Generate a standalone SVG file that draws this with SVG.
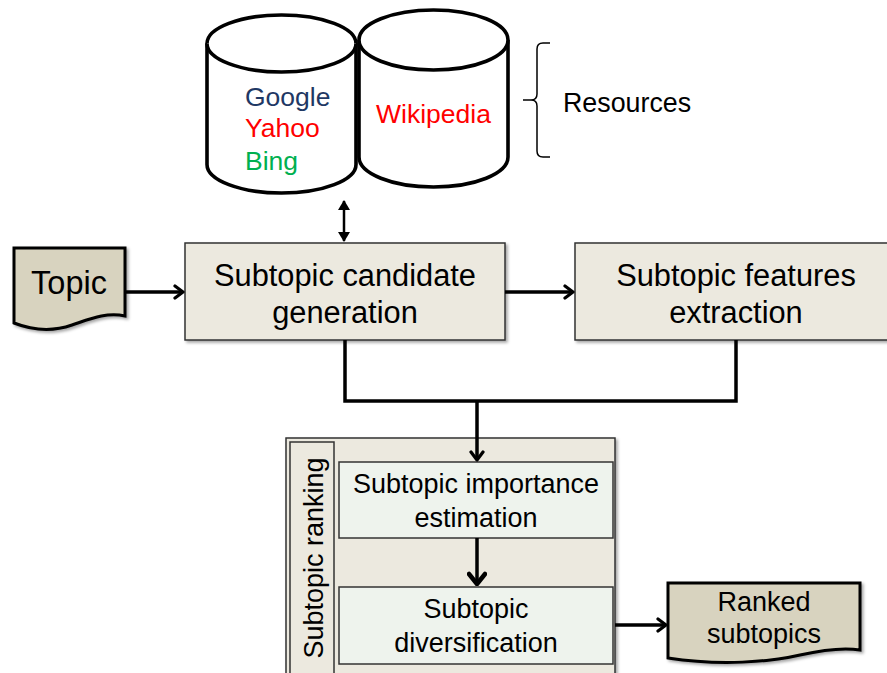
<svg xmlns="http://www.w3.org/2000/svg" width="887" height="673" viewBox="0 0 887 673">
  <defs>
    <filter id="sh" x="-10%" y="-10%" width="130%" height="130%">
      <feDropShadow dx="2" dy="2" stdDeviation="1.5" flood-color="#000" flood-opacity="0.35"/>
    </filter>
    <marker id="chev" viewBox="-11 -8 13 16" refX="0" refY="0" markerWidth="13" markerHeight="16" markerUnits="userSpaceOnUse" orient="auto">
      <path d="M-8,-6 L0,0 L-8,6" fill="none" stroke="#000" stroke-width="3.2" stroke-linecap="round" stroke-linejoin="round"/>
    </marker>
    <marker id="chevBig" viewBox="-13 -10 15 20" refX="0" refY="0" markerWidth="15" markerHeight="20" markerUnits="userSpaceOnUse" orient="auto">
      <path d="M-10,-8 L0,0 L-10,8" fill="none" stroke="#000" stroke-width="4.5" stroke-linecap="round" stroke-linejoin="round"/>
    </marker>
    <marker id="tri" viewBox="0 0 10 12" refX="9" refY="6" markerWidth="10" markerHeight="12" markerUnits="userSpaceOnUse" orient="auto-start-reverse">
      <path d="M0,0 L10,6 L0,12 Z" fill="#000"/>
    </marker>
  </defs>
  <style>
    text { font-family: "Liberation Sans", Arial, sans-serif; fill: #000; }
    .box { fill: #ece9df; stroke: #333; stroke-width: 1.5; }
    .inner { fill: #eef3ed; stroke: #333; stroke-width: 1.5; }
    .doc { fill: #d8d3bf; stroke: #000; stroke-width: 3; }
    .cyl { fill: #fff; stroke: #000; stroke-width: 3.6; }
    .conn { fill: none; stroke: #000; stroke-width: 3.5; }
    .big { font-size: 30.8px; }
    .mid { font-size: 27px; }
  </style>

  <rect width="887" height="673" fill="#fff"/>

  <g id="cyl-search">
    <path class="cyl" d="M207,43.5 A74.5,28.5 0 0 1 356,43.5 V164.5 A74.5,28.5 0 0 1 207,164.5 Z"/>
    <path class="cyl" fill="none" d="M207,43.5 A74.5,28.5 0 0 0 356,43.5"/>
    <text x="245" y="106" font-size="26.5" style="fill:#1f3864">Google</text>
    <text x="245" y="137" font-size="26.5" style="fill:#ff0000">Yahoo</text>
    <text x="245" y="170" font-size="26.5" style="fill:#00b050">Bing</text>
  </g>

  <g id="cyl-wiki">
    <path class="cyl" d="M359,40 A74.5,30 0 0 1 508,40 V157 A74.5,30 0 0 1 359,157 Z"/>
    <path class="cyl" fill="none" d="M359,40 A74.5,30 0 0 0 508,40"/>
    <text x="376" y="123" font-size="26.5" style="fill:#ff0000">Wikipedia</text>
  </g>

  <g id="resources">
    <path d="M550,43 H543 Q537,43 537,49 V94 Q537,100 531,100 H523 M531,100 Q537,100 537,106 V151 Q537,157 543,157 H550" fill="none" stroke="#000" stroke-width="1.5"/>
    <text x="563" y="112" font-size="26.8">Resources</text>
  </g>

  <g id="topic">
    <path class="doc" filter="url(#sh)" d="M14,248 H125 V316 C106,312 90,319 72,325 C52,332 32,330 14,323 Z"/>
    <text x="69" y="294" text-anchor="middle" font-size="32.5">Topic</text>
  </g>

  <g id="candidate-generation">
    <rect class="box" filter="url(#sh)" x="185" y="243" width="320" height="97"/>
    <text class="big" x="345" y="286" text-anchor="middle">Subtopic candidate</text>
    <text class="big" x="345" y="323" text-anchor="middle">generation</text>
  </g>

  <g id="features-extraction">
    <rect class="box" filter="url(#sh)" x="575" y="243" width="330" height="97"/>
    <text class="big" x="736" y="286" text-anchor="middle">Subtopic features</text>
    <text class="big" x="736" y="323" text-anchor="middle">extraction</text>
  </g>

  <g id="ranking">
    <rect class="box" filter="url(#sh)" x="286" y="438" width="329" height="245"/>
    <rect class="box" x="290" y="442" width="44" height="240"/>
    <text class="mid" transform="translate(323,558) rotate(-90)" text-anchor="middle">Subtopic ranking</text>
  </g>

  <g id="importance-estimation">
    <rect class="inner" x="339" y="462" width="274" height="76"/>
    <text class="mid" x="476" y="493" text-anchor="middle">Subtopic importance</text>
    <text class="mid" x="476" y="527" text-anchor="middle">estimation</text>
  </g>

  <g id="diversification">
    <rect class="inner" x="339" y="587" width="274" height="77"/>
    <text class="mid" x="476" y="618" text-anchor="middle">Subtopic</text>
    <text class="mid" x="476" y="652" text-anchor="middle">diversification</text>
  </g>

  <g id="ranked-subtopics">
    <path class="doc" stroke-width="1.5" filter="url(#sh)" d="M668,583 H860 V650 C842,647 822,650 800,655 C770,662 720,666 668,658 Z"/>
    <text class="mid" x="764" y="611" text-anchor="middle">Ranked</text>
    <text class="mid" x="764" y="643" text-anchor="middle">subtopics</text>
  </g>

  <g id="connectors">
    <line x1="344" y1="201" x2="344" y2="241" stroke="#000" stroke-width="2.5" marker-start="url(#tri)" marker-end="url(#tri)"/>
    <line class="conn" x1="125" y1="292" x2="183" y2="292" marker-end="url(#chev)"/>
    <line class="conn" x1="505" y1="292" x2="573" y2="292" marker-end="url(#chev)"/>
    <path class="conn" d="M345,340 V401 H736 V340" stroke-linejoin="miter"/>
    <line class="conn" x1="477" y1="401" x2="477" y2="460" marker-end="url(#chev)"/>
    <line class="conn" stroke-width="5" x1="477" y1="538" x2="477" y2="584" marker-end="url(#chevBig)"/>
    <line class="conn" x1="615" y1="625" x2="666" y2="625" marker-end="url(#chev)"/>
  </g>
</svg>
